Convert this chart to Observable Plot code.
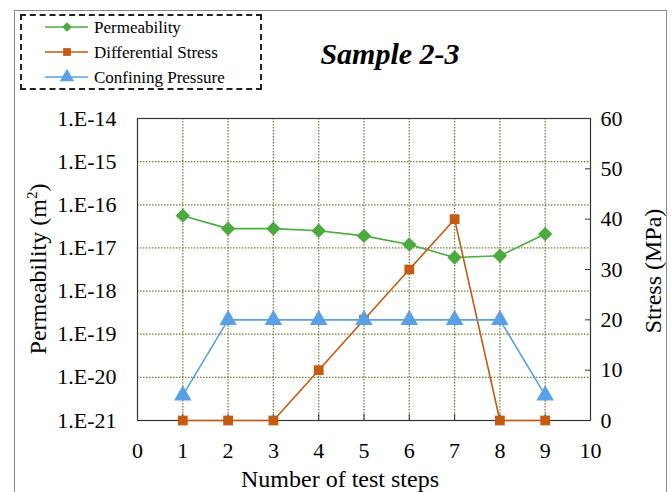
<!DOCTYPE html>
<html>
<head>
<meta charset="utf-8">
<script src="https://cdn.jsdelivr.net/npm/d3@7"></script>
<script src="https://cdn.jsdelivr.net/npm/@observablehq/plot@0.6"></script>
<style>
  body { margin: 0; background: #fff; }
  #wrap { position: relative; width: 672px; height: 492px; overflow: hidden; font-family: "Liberation Serif", serif; }
  #outer { position: absolute; left: 14px; top: 10px; width: 653px; height: 520px; border: 1.5px solid #8a8a8a; box-sizing: border-box; }
  #legend { position: absolute; left: 20px; top: 14px; width: 242px; height: 76px; border: 2px dashed #222; box-sizing: border-box; background: #fff; }
  #title { position: absolute; left: 300px; width: 180px; top: 37px; text-align: center; font: italic bold 30px "Liberation Serif", serif; color: #000; }
  .atitle { position: absolute; font: 24px/24px "Liberation Serif", serif; color: #000; text-align: center; white-space: nowrap; }
  .atitle sup { font-size: 15px; line-height: 0; }
  #xtitle { left: 240px; width: 200px; top: 467px; }
  #ytitle { left: -87px; width: 250px; top: 257px; transform: rotate(-90deg); }
  #y2title { left: 528px; width: 250px; top: 259px; transform: rotate(-90deg); }
</style>
</head>
<body>
<div id="wrap">
  <div id="outer"></div>
  <div id="chart"></div>
  <div id="legend"><svg id="legsvg" width="240" height="74"></svg></div>
  <div id="title">Sample 2-3</div>
  <div class="atitle" id="xtitle">Number of test steps</div>
  <div class="atitle" id="ytitle">Permeability (m<sup>2</sup>)</div>
  <div class="atitle" id="y2title">Stress (MPa)</div>
</div>
<script>
const steps = [1, 2, 3, 4, 5, 6, 7, 8, 9];
const permeability = [5.6e-17, 2.8e-17, 2.8e-17, 2.5e-17, 1.9e-17, 1.2e-17, 6.0e-18, 6.6e-18, 2.1e-17];
const diffStress = [0, 0, 0, 10, 20, 30, 40, 0, 0];
const confining = [5, 20, 20, 20, 20, 20, 20, 20, 5];
const xTicks = [0, 1, 2, 3, 4, 5, 6, 7, 8, 9, 10];
const permExponents = [-21, -20, -19, -18, -17, -16, -15, -14];
const stressTicks = [0, 10, 20, 30, 40, 50, 60];
const seriesNames = ["Permeability", "Differential Stress", "Confining Pressure"];
const seriesColors = ["#4caa3f", "#c55a11", "#5aa0e6"];
const seriesSymbols = ["diamond2", "square", "triangle"];

// Primary axis is log10(permeability) from -21 to -14;
// secondary (stress) axis 0..60 MPa is mapped linearly onto the same range.
const pMin = -21, pMax = -14, sMax = 60;
const stressToY = s => pMin + s * (pMax - pMin) / sMax;
const yToStress = v => Math.round((v - pMin) * sMax / (pMax - pMin));

const permData = steps.map((x, i) => ({x, y: Math.log10(permeability[i])}));
const diffData = steps.map((x, i) => ({x, y: stressToY(diffStress[i])}));
const confData = steps.map((x, i) => ({x, y: stressToY(confining[i])}));

const gridStyle = {stroke: "#7d7d40", strokeWidth: 1.3, strokeDasharray: "1.5,1.5"};

const plot = Plot.plot({
  width: 672,
  height: 492,
  marginLeft: 137,
  marginRight: 82,
  marginTop: 118,
  marginBottom: 72,
  style: {fontFamily: "'Liberation Serif', serif", fontSize: "22px", color: "#000", background: "transparent"},
  x: {domain: [0, 10]},
  y: {domain: [pMin, pMax]},
  marks: [
    Plot.ruleX(steps, {...gridStyle}),
    Plot.ruleY(permExponents.slice(1, -1), {...gridStyle}),
    Plot.frame({stroke: "#333", strokeWidth: 1.2}),
    // x axis: inward tick marks + labels
    Plot.axisX(xTicks, {anchor: "bottom", tickSize: 6, dy: -6, text: null, label: null, stroke: "#333"}),
    Plot.axisX(xTicks, {anchor: "bottom", tickSize: 0, tickPadding: 22, fontSize: 22, label: null}),
    // left (log permeability) axis
    Plot.axisY(permExponents, {anchor: "left", tickSize: 0, tickPadding: 21, fontSize: 22,
      tickFormat: d => "1.E" + d, label: null}),
    // right stress axis
    Plot.axisY(stressTicks.map(stressToY), {anchor: "right", tickSize: 6, dx: -6, text: null, label: null, stroke: "#333"}),
    Plot.axisY(stressTicks.map(stressToY), {anchor: "right", tickSize: 0, tickPadding: 10, fontSize: 22,
      tickFormat: d => String(yToStress(d)), label: null}),
    // series
    Plot.line(permData, {x: "x", y: "y", stroke: seriesColors[0], strokeWidth: 1.6}),
    Plot.dot(permData, {x: "x", y: "y", symbol: seriesSymbols[0], fill: seriesColors[0], stroke: seriesColors[0], r: 5.5}),
    Plot.line(diffData, {x: "x", y: "y", stroke: seriesColors[1], strokeWidth: 1.6}),
    Plot.dot(diffData, {x: "x", y: "y", symbol: seriesSymbols[1], fill: seriesColors[1], r: 5.5}),
    Plot.line(confData, {x: "x", y: "y", stroke: seriesColors[2], strokeWidth: 1.6}),
    Plot.dot(confData, {x: "x", y: "y", symbol: seriesSymbols[2], fill: seriesColors[2], r: 6.5})
  ]
});
plot.style.position = "absolute";
plot.style.left = "0px";
plot.style.top = "0px";
document.getElementById("chart").appendChild(plot);

// legend
const leg = d3.select("#legsvg");
const symGen = {diamond2: d3.symbolDiamond2, square: d3.symbolSquare, triangle: d3.symbolTriangle};
seriesNames.forEach((name, i) => {
  const cy = 11 + i * 25;
  const g = leg.append("g").attr("transform", `translate(0,${cy})`);
  g.append("line").attr("x1", 23).attr("x2", 66).attr("y1", 0).attr("y2", 0)
    .attr("stroke", seriesColors[i]).attr("stroke-width", 1.6);
  g.append("path").attr("transform", "translate(45,0)")
    .attr("d", d3.symbol(symGen[seriesSymbols[i]], i === 2 ? 90 : 60)())
    .attr("fill", seriesColors[i]);
  g.append("text").attr("x", 72).attr("y", 0).attr("dy", "0.35em")
    .style("font-family", "'Liberation Serif', serif").style("font-size", "17px").text(name);
});
</script>
</body>
</html>
